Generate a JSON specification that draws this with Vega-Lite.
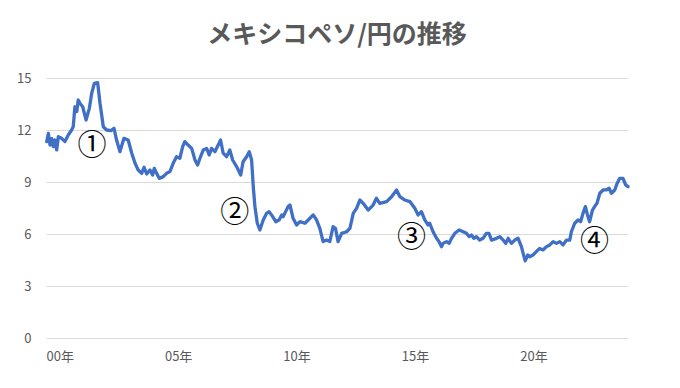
{
  "$schema": "https://vega.github.io/schema/vega-lite/v6.json",
  "width": 582,
  "height": 260,
  "autosize": {"type": "none"},
  "padding": {"left": 46, "top": 78, "right": 52, "bottom": 50},
  "background": "white",
  "title": {
    "text": "メキシコペソ/円の推移",
    "font": "Noto Sans CJK JP",
    "fontSize": 25,
    "fontWeight": "bold",
    "color": "#595959",
    "anchor": "middle",
    "offset": 24
  },
  "config": {
    "view": {"stroke": null},
    "font": "Noto Sans CJK JP"
  },
  "datasets": {
    "rate": [
      {"year": 2000.03, "value": 11.33}, {"year": 2000.10, "value": 11.8}, {"year": 2000.17, "value": 11.13},
      {"year": 2000.24, "value": 11.5}, {"year": 2000.31, "value": 11.04}, {"year": 2000.38, "value": 11.42},
      {"year": 2000.45, "value": 10.85}, {"year": 2000.52, "value": 11.61}, {"year": 2000.66, "value": 11.52},
      {"year": 2000.80, "value": 11.33}, {"year": 2000.94, "value": 11.71}, {"year": 2001.08, "value": 12.0},
      {"year": 2001.15, "value": 12.19}, {"year": 2001.22, "value": 13.34}, {"year": 2001.30, "value": 13.06},
      {"year": 2001.36, "value": 13.73}, {"year": 2001.43, "value": 13.54}, {"year": 2001.55, "value": 13.34},
      {"year": 2001.69, "value": 12.58}, {"year": 2001.83, "value": 13.25}, {"year": 2001.93, "value": 14.12},
      {"year": 2002.04, "value": 14.69}, {"year": 2002.18, "value": 14.73}, {"year": 2002.28, "value": 13.54},
      {"year": 2002.42, "value": 12.19}, {"year": 2002.56, "value": 12.0}, {"year": 2002.74, "value": 11.96},
      {"year": 2002.87, "value": 12.1}, {"year": 2002.98, "value": 11.42}, {"year": 2003.12, "value": 10.75},
      {"year": 2003.29, "value": 11.52}, {"year": 2003.47, "value": 11.42}, {"year": 2003.62, "value": 10.66},
      {"year": 2003.76, "value": 10.08}, {"year": 2003.89, "value": 9.69}, {"year": 2004.04, "value": 9.5},
      {"year": 2004.14, "value": 9.85}, {"year": 2004.25, "value": 9.46}, {"year": 2004.39, "value": 9.69},
      {"year": 2004.50, "value": 9.4}, {"year": 2004.57, "value": 9.79}, {"year": 2004.67, "value": 9.5},
      {"year": 2004.78, "value": 9.21}, {"year": 2004.95, "value": 9.31}, {"year": 2005.09, "value": 9.5},
      {"year": 2005.23, "value": 9.6}, {"year": 2005.37, "value": 10.08}, {"year": 2005.51, "value": 10.46},
      {"year": 2005.65, "value": 10.37}, {"year": 2005.77, "value": 11.04}, {"year": 2005.86, "value": 11.33},
      {"year": 2006.00, "value": 11.13}, {"year": 2006.15, "value": 10.94}, {"year": 2006.29, "value": 10.27},
      {"year": 2006.40, "value": 9.98}, {"year": 2006.50, "value": 10.37}, {"year": 2006.64, "value": 10.85},
      {"year": 2006.78, "value": 10.94}, {"year": 2006.89, "value": 10.56}, {"year": 2006.99, "value": 10.94},
      {"year": 2007.13, "value": 10.75}, {"year": 2007.27, "value": 11.13}, {"year": 2007.37, "value": 11.42},
      {"year": 2007.48, "value": 10.66}, {"year": 2007.62, "value": 10.46}, {"year": 2007.76, "value": 10.85},
      {"year": 2007.88, "value": 10.27}, {"year": 2008.05, "value": 9.88}, {"year": 2008.22, "value": 9.4},
      {"year": 2008.32, "value": 10.17}, {"year": 2008.47, "value": 10.46}, {"year": 2008.58, "value": 10.75},
      {"year": 2008.68, "value": 10.27}, {"year": 2008.75, "value": 8.73}, {"year": 2008.82, "value": 7.58},
      {"year": 2008.92, "value": 6.62}, {"year": 2009.03, "value": 6.23}, {"year": 2009.17, "value": 6.81},
      {"year": 2009.31, "value": 7.19}, {"year": 2009.42, "value": 7.29}, {"year": 2009.57, "value": 7.0},
      {"year": 2009.70, "value": 6.71}, {"year": 2009.84, "value": 6.81}, {"year": 2009.95, "value": 7.1},
      {"year": 2010.01, "value": 7.0}, {"year": 2010.22, "value": 7.58}, {"year": 2010.30, "value": 7.67},
      {"year": 2010.43, "value": 6.91}, {"year": 2010.58, "value": 6.52}, {"year": 2010.72, "value": 6.71},
      {"year": 2010.93, "value": 6.62}, {"year": 2011.07, "value": 6.81}, {"year": 2011.28, "value": 7.1},
      {"year": 2011.42, "value": 6.81}, {"year": 2011.56, "value": 6.33}, {"year": 2011.63, "value": 5.94},
      {"year": 2011.70, "value": 5.56}, {"year": 2011.84, "value": 5.65}, {"year": 2011.98, "value": 5.56},
      {"year": 2012.12, "value": 6.42}, {"year": 2012.22, "value": 6.33}, {"year": 2012.33, "value": 5.56},
      {"year": 2012.48, "value": 6.04}, {"year": 2012.69, "value": 6.13}, {"year": 2012.83, "value": 6.33},
      {"year": 2012.97, "value": 7.19}, {"year": 2013.11, "value": 7.48}, {"year": 2013.25, "value": 7.96},
      {"year": 2013.39, "value": 7.77}, {"year": 2013.60, "value": 7.38}, {"year": 2013.81, "value": 7.67},
      {"year": 2013.95, "value": 8.06}, {"year": 2014.09, "value": 7.77}, {"year": 2014.38, "value": 7.87},
      {"year": 2014.59, "value": 8.15}, {"year": 2014.80, "value": 8.54}, {"year": 2014.94, "value": 8.15},
      {"year": 2015.15, "value": 7.96}, {"year": 2015.36, "value": 7.87}, {"year": 2015.57, "value": 7.48},
      {"year": 2015.71, "value": 7.1}, {"year": 2015.85, "value": 7.29}, {"year": 2015.99, "value": 6.81},
      {"year": 2016.13, "value": 6.52}, {"year": 2016.20, "value": 6.62}, {"year": 2016.34, "value": 6.13},
      {"year": 2016.49, "value": 5.75}, {"year": 2016.59, "value": 5.56}, {"year": 2016.70, "value": 5.27},
      {"year": 2016.76, "value": 5.46}, {"year": 2016.91, "value": 5.56}, {"year": 2017.02, "value": 5.46},
      {"year": 2017.12, "value": 5.75}, {"year": 2017.26, "value": 6.04}, {"year": 2017.44, "value": 6.23},
      {"year": 2017.61, "value": 6.13}, {"year": 2017.75, "value": 6.04}, {"year": 2017.86, "value": 5.85},
      {"year": 2017.96, "value": 5.94}, {"year": 2018.06, "value": 5.75}, {"year": 2018.17, "value": 5.85},
      {"year": 2018.31, "value": 5.65}, {"year": 2018.45, "value": 5.75}, {"year": 2018.59, "value": 6.04},
      {"year": 2018.70, "value": 6.04}, {"year": 2018.81, "value": 5.65}, {"year": 2019.02, "value": 5.75},
      {"year": 2019.16, "value": 5.85}, {"year": 2019.30, "value": 5.65}, {"year": 2019.41, "value": 5.46},
      {"year": 2019.51, "value": 5.75}, {"year": 2019.65, "value": 5.46}, {"year": 2019.79, "value": 5.65},
      {"year": 2019.93, "value": 5.75}, {"year": 2020.07, "value": 5.27}, {"year": 2020.14, "value": 4.9},
      {"year": 2020.23, "value": 4.45}, {"year": 2020.34, "value": 4.79}, {"year": 2020.42, "value": 4.69},
      {"year": 2020.56, "value": 4.79}, {"year": 2020.70, "value": 4.98}, {"year": 2020.84, "value": 5.17},
      {"year": 2020.98, "value": 5.08}, {"year": 2021.13, "value": 5.27}, {"year": 2021.27, "value": 5.37},
      {"year": 2021.41, "value": 5.56}, {"year": 2021.55, "value": 5.46}, {"year": 2021.69, "value": 5.56},
      {"year": 2021.83, "value": 5.37}, {"year": 2021.97, "value": 5.65}, {"year": 2022.11, "value": 5.65},
      {"year": 2022.18, "value": 6.13}, {"year": 2022.32, "value": 6.62}, {"year": 2022.46, "value": 6.81},
      {"year": 2022.57, "value": 6.71}, {"year": 2022.67, "value": 7.19}, {"year": 2022.77, "value": 7.58},
      {"year": 2022.86, "value": 7.1}, {"year": 2022.95, "value": 6.71}, {"year": 2023.07, "value": 7.38},
      {"year": 2023.16, "value": 7.58}, {"year": 2023.26, "value": 7.77}, {"year": 2023.38, "value": 8.35},
      {"year": 2023.52, "value": 8.54}, {"year": 2023.66, "value": 8.54}, {"year": 2023.77, "value": 8.64},
      {"year": 2023.87, "value": 8.35}, {"year": 2024.01, "value": 8.54}, {"year": 2024.11, "value": 8.92},
      {"year": 2024.22, "value": 9.21}, {"year": 2024.36, "value": 9.21}, {"year": 2024.47, "value": 8.83},
      {"year": 2024.57, "value": 8.73}
    ],
    "notes": [
      {"year": 2001.94, "value": 11.05, "label": "①"},
      {"year": 2007.97, "value": 7.19, "label": "②"},
      {"year": 2015.43, "value": 5.75, "label": "③"},
      {"year": 2023.16, "value": 5.56, "label": "④"}
    ]
  },
  "layer": [
    {
      "data": {"name": "rate"},
      "mark": {"type": "line", "color": "#3F6FC6", "strokeWidth": 3.3, "strokeJoin": "round", "strokeCap": "round"},
      "encoding": {
        "x": {
          "field": "year", "type": "quantitative",
          "scale": {"domain": [2000, 2024.57], "nice": false, "zero": false},
          "axis": {
            "title": null, "values": [2000, 2005, 2010, 2015, 2020],
            "labelExpr": "format(datum.value % 100, '02d') + '年'",
            "labelAlign": "left", "labelPadding": 12, "labelFontSize": 13, "labelColor": "#595959",
            "grid": false, "domain": false, "ticks": false
          }
        },
        "y": {
          "field": "value", "type": "quantitative",
          "scale": {"domain": [0, 15], "nice": false},
          "axis": {
            "title": null, "values": [0, 3, 6, 9, 12, 15],
            "labelPadding": 15, "labelFontSize": 13, "labelColor": "#595959",
            "grid": true, "gridColor": "#D9D9D9", "gridWidth": 1,
            "domain": false, "ticks": false
          }
        }
      }
    },
    {
      "data": {"name": "notes"},
      "mark": {"type": "text", "fontSize": 29, "color": "#000000", "baseline": "middle", "align": "center"},
      "encoding": {
        "x": {"field": "year", "type": "quantitative"},
        "y": {"field": "value", "type": "quantitative"},
        "text": {"field": "label"}
      }
    }
  ]
}
